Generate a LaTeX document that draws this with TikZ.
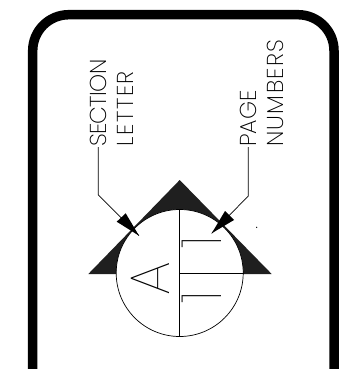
\documentclass[tikz,border=0pt]{standalone}
\usepackage{fontspec}
\newfontfamily\cadfont{Poppins ExtraLight}
\newfontfamily\cadbig{Poppins Thin}
\tikzset{
  leader/.style={line width=0.7pt},
  cadlabel/.style={font=\cadfont\fontsize{23}{23}\selectfont, rotate=90, anchor=west, inner sep=0pt},
  cadchar/.style={font=\cadbig\fontsize{56}{56}\selectfont, rotate=90, inner sep=0pt},
}
\begin{document}
\begin{tikzpicture}[x=1pt, y=-1pt, >=latex]
    % Khung
    \useasboundingbox (0, 0) rectangle (347, 369);
    \draw[line width=9.5pt, rounded corners=36pt] (32.7, 369) -- (32.7, 14.7) -- (334, 14.7) -- (334, 369);

    % Tam giac va hinh tron
    \fill[black!88] (88.3, 274) -- (179.7, 180) -- (271.7, 274) -- cycle;
    \node[circle, draw, fill=white, minimum size=127pt, inner sep=0pt, line width=0.7pt] (disc) at (179.7, 273) {};
    \draw[leader] (disc.north) -- (disc.south);
    \draw[leader] (disc.center) -- (disc.east);

    % Chu trong hinh tron
    \node[cadchar] (letter) at (150, 279) {A};
    \node[cadchar] (pageA) at (202, 242) {1};
    \node[cadchar] (pageB) at (202, 297) {1};

    % Nhan
    \node[cadlabel] (section) at (98.3, 147) {\addfontfeature{LetterSpace=-3}SECTION};
    \node[cadlabel] (letterlabel) at (125.5, 147) {\addfontfeature{LetterSpace=7}LETTER};
    \node[cadlabel] (page) at (248.3, 147) {PAGE};
    \node[cadlabel] (numbers) at (275, 147) {\addfontfeature{LetterSpace=5.5}NUMBERS};

    % Mui ten
    \coordinate (sectionbend) at (98.3, 195);
    \coordinate (sectiontip) at (139, 235.7);
    \coordinate (pagebend) at (248.3, 196);
    \coordinate (pagetip) at (211.7, 233.3);
    \draw[leader] (section.west) -- (sectionbend) -- (sectiontip);
    \draw[leader] (page.west) -- (pagebend) -- (pagetip);
    \fill (sectiontip) -- (116.7, 221.7) -- (125.7, 213.3) -- cycle;
    \fill (pagetip) -- (225, 211) -- (234, 220) -- cycle;

    % Cham nho
    \fill (256.7, 227.3) circle (0.7pt);
\end{tikzpicture}
\end{document}
